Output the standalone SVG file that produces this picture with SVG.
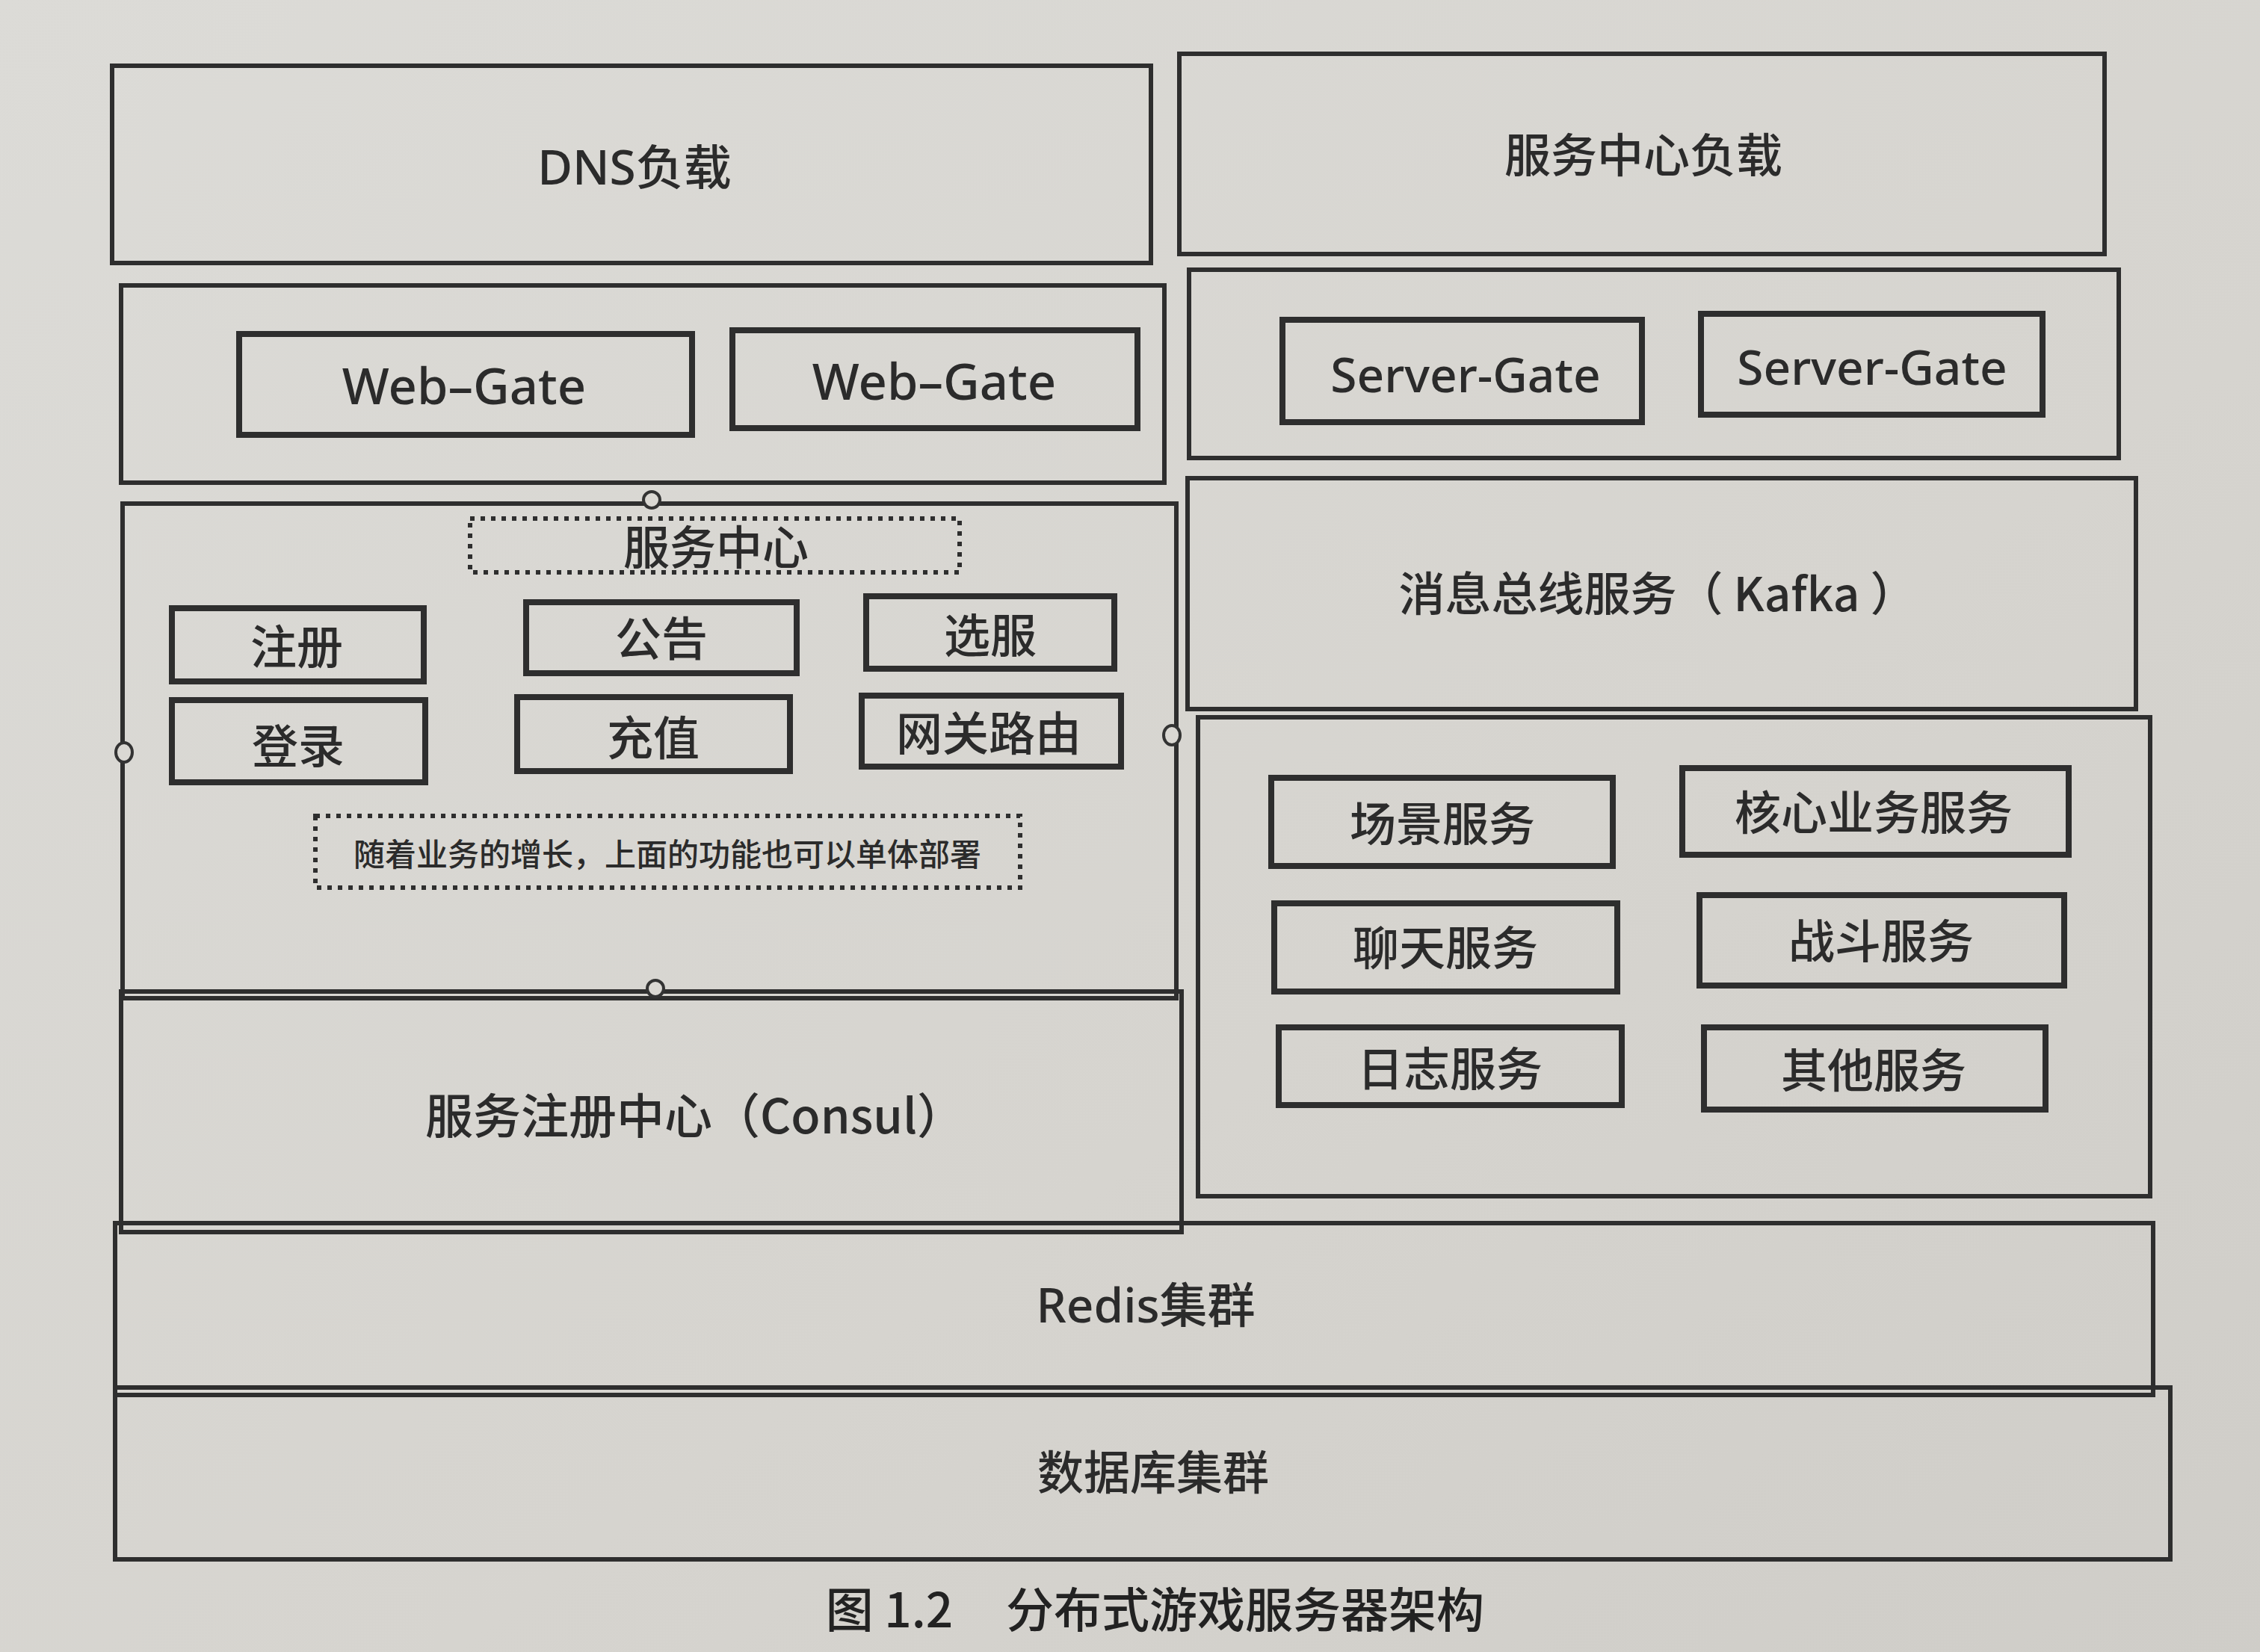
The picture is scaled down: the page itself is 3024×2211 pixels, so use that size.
<svg xmlns="http://www.w3.org/2000/svg" width="3024" height="2211" viewBox="0 0 3024 2211">
  <defs>
    <linearGradient id="paper" x1="0" y1="0" x2="1" y2="1">
      <stop offset="0" stop-color="#dcdbd7"/>
      <stop offset="0.6" stop-color="#d6d4cf"/>
      <stop offset="1" stop-color="#cfcdc8"/>
    </linearGradient>
    <style>
      .outer { fill: none; stroke: #2e2e2e; stroke-width: 6; }
      .inner { fill: none; stroke: #2e2e2e; stroke-width: 8; }
      .dotted { fill: none; stroke: #2e2e2e; stroke-width: 6; stroke-dasharray: 6 8; }
      .port { fill: #dad8d3; stroke: #333; stroke-width: 4; }
      text { font-family: "Noto Sans CJK SC", "Noto Sans", sans-serif; font-weight: 500; fill: #2b2b2b; text-anchor: middle; dominant-baseline: central; }
      .lbl { font-size: 62px; }
      .lat { font-family: "Noto Sans", "Noto Sans CJK SC", sans-serif; font-size: 64px; }
      .note { font-size: 42px; }
      .cap { font-size: 64px; fill: #222; }
    </style>
  </defs>

  <rect width="3024" height="2211" fill="url(#paper)"/>

  <!-- top row: load balancers -->
  <g id="dns-load">
    <rect class="outer" x="150" y="88" width="1390" height="264"/>
    <text class="lat" x="849" y="222">DNS负载</text>
  </g>
  <g id="service-center-load">
    <rect class="outer" x="1578" y="72" width="1238" height="268"/>
    <text class="lbl" x="2199" y="204">服务中心负载</text>
  </g>

  <!-- gate layer -->
  <g id="web-gate-layer">
    <rect class="outer" x="162" y="382" width="1396" height="264"/>
    <g id="web-gate-1">
      <rect class="inner" x="320" y="447" width="606" height="135"/>
      <text class="lat" x="621" y="515" style="font-size:67px">Web–Gate</text>
    </g>
    <g id="web-gate-2">
      <rect class="inner" x="980" y="442" width="542" height="131"/>
      <text class="lat" x="1250" y="509" style="font-size:67px">Web–Gate</text>
    </g>
  </g>
  <g id="server-gate-layer">
    <rect class="outer" x="1591" y="361" width="1244" height="252"/>
    <g id="server-gate-1">
      <rect class="inner" x="1716" y="428" width="481" height="137"/>
      <text class="lat" x="1961" y="500">Server-Gate</text>
    </g>
    <g id="server-gate-2">
      <rect class="inner" x="2276" y="420" width="457" height="135"/>
      <text class="lat" x="2505" y="490">Server-Gate</text>
    </g>
  </g>

  <!-- service center -->
  <g id="service-center">
    <rect class="outer" x="164" y="674" width="1410" height="662"/>
    <g id="service-center-title">
      <rect class="dotted" x="629" y="694" width="655" height="72"/>
      <text class="lbl" x="958" y="729">服务中心</text>
    </g>
    <g id="svc-register">
      <rect class="inner" x="230" y="814" width="337" height="98"/>
      <text class="lbl" x="397" y="862">注册</text>
    </g>
    <g id="svc-notice">
      <rect class="inner" x="704" y="806" width="362" height="95"/>
      <text class="lbl" x="885" y="851">公告</text>
    </g>
    <g id="svc-select-server">
      <rect class="inner" x="1159" y="798" width="332" height="97"/>
      <text class="lbl" x="1325" y="847">选服</text>
    </g>
    <g id="svc-login">
      <rect class="inner" x="230" y="937" width="339" height="110"/>
      <text class="lbl" x="399" y="995">登录</text>
    </g>
    <g id="svc-recharge">
      <rect class="inner" x="692" y="933" width="365" height="99"/>
      <text class="lbl" x="874" y="984">充值</text>
    </g>
    <g id="svc-gate-routing">
      <rect class="inner" x="1153" y="931" width="347" height="95"/>
      <text class="lbl" x="1323" y="978">网关路由</text>
    </g>
    <g id="svc-note">
      <rect class="dotted" x="422" y="1092" width="943" height="96"/>
      <text class="note" x="893" y="1140">随着业务的增长，上面的功能也可以单体部署</text>
    </g>
  </g>

  <g id="consul">
    <rect class="outer" x="162" y="1327" width="1419" height="322"/>
    <text class="lbl" x="930" y="1489" style="font-size:64px">服务注册中心（Consul）</text>
  </g>

  <!-- connection points on the service center frame -->
  <g id="connectors">
    <ellipse class="port" cx="872" cy="669" rx="11" ry="11"/>
    <ellipse class="port" cx="166" cy="1007" rx="11" ry="13"/>
    <ellipse class="port" cx="1568" cy="984" rx="11" ry="13"/>
    <ellipse class="port" cx="877" cy="1323" rx="11" ry="11"/>
  </g>

  <!-- message bus and game services -->
  <g id="kafka">
    <rect class="outer" x="1589" y="640" width="1269" height="309"/>
    <text class="lbl" x="2218" y="791" xml:space="preserve">消息总线服务（ Kafka ）</text>
  </g>
  <g id="game-services">
    <rect class="outer" x="1603" y="960" width="1274" height="641"/>
    <g id="scene-service">
      <rect class="inner" x="1701" y="1041" width="457" height="118"/>
      <text class="lbl" x="1930" y="1099">场景服务</text>
    </g>
    <g id="core-service">
      <rect class="inner" x="2251" y="1028" width="517" height="116"/>
      <text class="lbl" x="2507" y="1084">核心业务服务</text>
    </g>
    <g id="chat-service">
      <rect class="inner" x="1705" y="1209" width="459" height="118"/>
      <text class="lbl" x="1934" y="1265">聊天服务</text>
    </g>
    <g id="battle-service">
      <rect class="inner" x="2274" y="1198" width="488" height="121"/>
      <text class="lbl" x="2517" y="1256">战斗服务</text>
    </g>
    <g id="log-service">
      <rect class="inner" x="1711" y="1375" width="459" height="104"/>
      <text class="lbl" x="1940" y="1427">日志服务</text>
    </g>
    <g id="other-service">
      <rect class="inner" x="2280" y="1375" width="457" height="110"/>
      <text class="lbl" x="2507" y="1429">其他服务</text>
    </g>
  </g>

  <!-- storage -->
  <g id="redis">
    <rect class="outer" x="154" y="1637" width="2727" height="230"/>
    <text class="lat" x="1533" y="1745">Redis集群</text>
  </g>
  <g id="database">
    <rect class="outer" x="154" y="1857" width="2750" height="230"/>
    <text class="lbl" x="1543" y="1967">数据库集群</text>
  </g>

  <!-- figure caption -->
  <text class="cap" x="1190" y="2150">图 1.2</text>
  <text class="cap" x="1666" y="2150">分布式游戏服务器架构</text>
</svg>
